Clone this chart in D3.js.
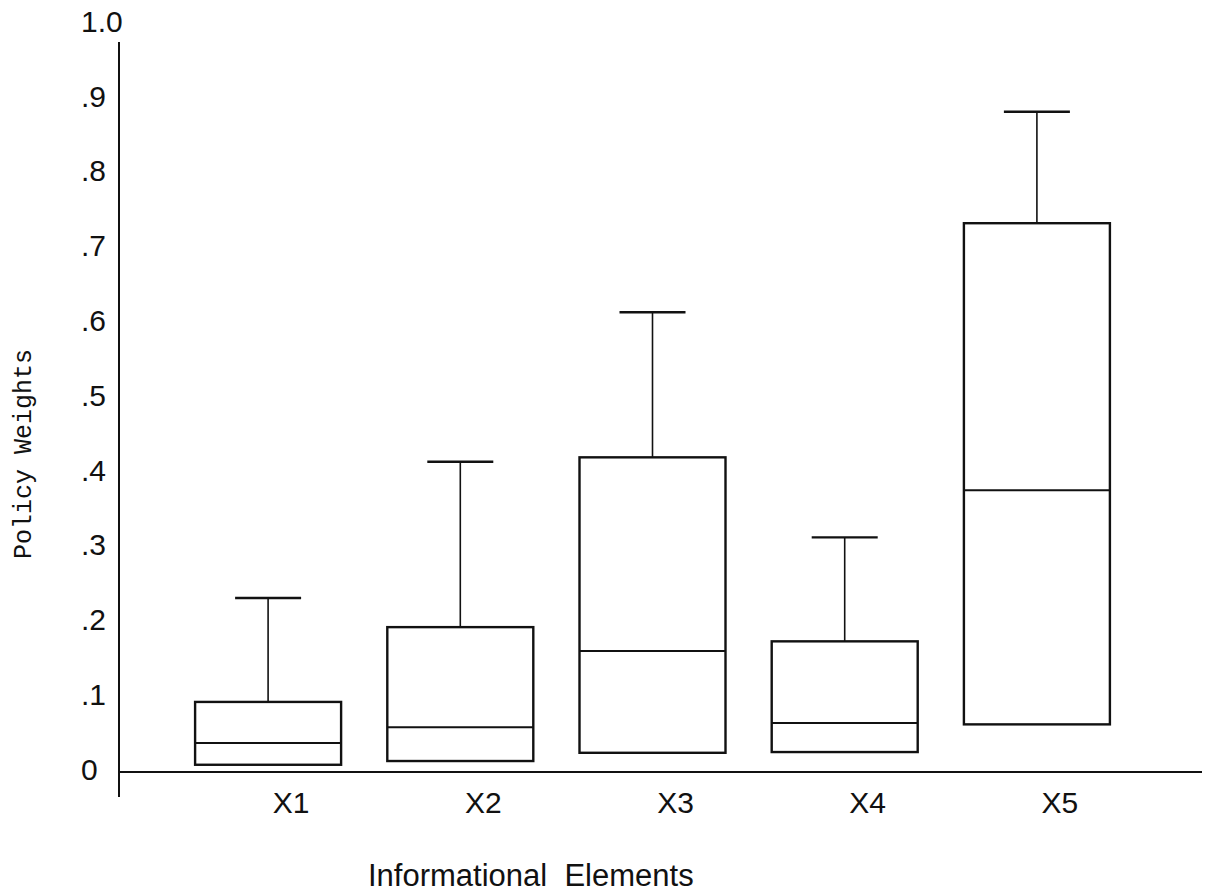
<!DOCTYPE html>
<html>
<head>
<meta charset="utf-8">
<script src="https://cdn.jsdelivr.net/npm/d3@7"></script>
<style>
  body { margin: 0; background: #fff; }
  svg { display: block; }
</style>
</head>
<body>
<svg id="chart" width="1213" height="895"></svg>
<script>
// values
var elements = ["X1", "X2", "X3", "X4", "X5"];
var boxBottom = [0.007, 0.012, 0.023, 0.024, 0.061];
var medians   = [0.036, 0.057, 0.159, 0.063, 0.374];
var boxTop    = [0.091, 0.191, 0.418, 0.172, 0.731];
var whiskerTop = [0.230, 0.412, 0.612, 0.311, 0.880];
var yTicks = [0, 0.1, 0.2, 0.3, 0.4, 0.5, 0.6, 0.7, 0.8, 0.9, 1.0];
var yTickLabels = ["0", ".1", ".2", ".3", ".4", ".5", ".6", ".7", ".8", ".9", "1.0"];

var svg = d3.select("#chart");
var axisX = 119;

var y = d3.scaleLinear().domain([0, 1]).range([770, 22]);
var x = d3.scalePoint().domain(elements).range([172, 1133]).padding(0.5);

var boxW = 146, capW = 66;

var rows = elements.map(function(e, i) {
  return { name: e, lo: boxBottom[i], med: medians[i], hi: boxTop[i], wh: whiskerTop[i] };
});

// axes
svg.append("line")
  .attr("x1", axisX).attr("x2", axisX)
  .attr("y1", 42).attr("y2", 797)
  .attr("stroke", "#111").attr("stroke-width", 2);

svg.append("line")
  .attr("x1", axisX).attr("x2", 1202)
  .attr("y1", y(0) + 2).attr("y2", y(0) + 2)
  .attr("stroke", "#111").attr("stroke-width", 2.2);

svg.selectAll(".ytick")
  .data(yTicks)
  .enter()
  .append("text")
  .attr("class", "ytick")
  .attr("x", 81)
  .attr("y", function(d) { return y(d) - 1; })
  .attr("dy", "0.36em")
  .text(function(d, i) { return yTickLabels[i]; })
  .attr("font-family", "Liberation Sans, Arial, sans-serif")
  .attr("font-size", 30)
  .attr("fill", "#111");

var g = svg.selectAll(".box")
  .data(rows)
  .enter()
  .append("g")
  .attr("class", "box");

// whisker
g.append("line")
  .attr("x1", function(d) { return x(d.name); })
  .attr("x2", function(d) { return x(d.name); })
  .attr("y1", function(d) { return y(d.hi); })
  .attr("y2", function(d) { return y(d.wh); })
  .attr("stroke", "#111").attr("stroke-width", 1.6);

g.append("line")
  .attr("x1", function(d) { return x(d.name) - capW / 2; })
  .attr("x2", function(d) { return x(d.name) + capW / 2; })
  .attr("y1", function(d) { return y(d.wh); })
  .attr("y2", function(d) { return y(d.wh); })
  .attr("stroke", "#111").attr("stroke-width", 2.4);

g.append("rect")
  .attr("x", function(d) { return x(d.name) - boxW / 2; })
  .attr("y", function(d) { return y(d.hi); })
  .attr("width", boxW)
  .attr("height", function(d) { return y(d.lo) - y(d.hi); })
  .attr("fill", "none")
  .attr("stroke", "#111").attr("stroke-width", 2.4);

g.append("line")
  .attr("x1", function(d) { return x(d.name) - boxW / 2; })
  .attr("x2", function(d) { return x(d.name) + boxW / 2; })
  .attr("y1", function(d) { return y(d.med); })
  .attr("y2", function(d) { return y(d.med); })
  .attr("stroke", "#111").attr("stroke-width", 2);

// category labels, set a little right of the boxes as in the original
svg.selectAll(".xlab")
  .data(elements)
  .enter()
  .append("text")
  .attr("class", "xlab")
  .attr("x", function(d) { return x(d) + 23; })
  .attr("y", 813)
  .attr("text-anchor", "middle")
  .text(function(d) { return d; })
  .attr("font-family", "Liberation Sans, Arial, sans-serif")
  .attr("font-size", 30)
  .attr("fill", "#111");

svg.append("text")
  .attr("x", 368)
  .attr("y", 886)
  .text("Informational\u00a0\u00a0Elements")
  .attr("font-family", "Liberation Sans, Arial, sans-serif")
  .attr("font-size", 31)
  .attr("fill", "#111");

svg.append("text")
  .attr("transform", "translate(31,454) rotate(-90)")
  .attr("text-anchor", "middle")
  .text("Policy Weights")
  .attr("font-family", "Liberation Mono, Courier New, monospace")
  .attr("font-size", 25)
  .attr("fill", "#111");
</script>
</body>
</html>
